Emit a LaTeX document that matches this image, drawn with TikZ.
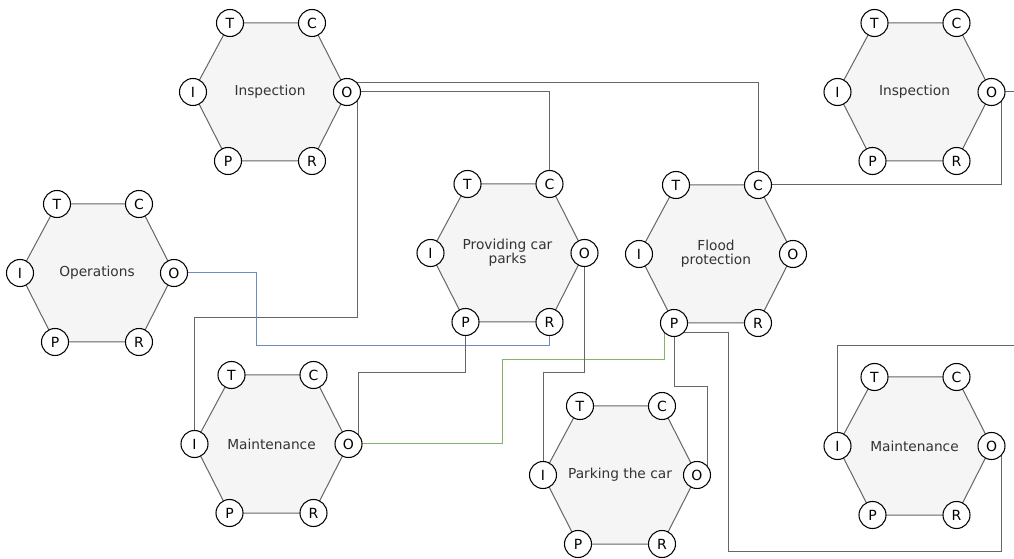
\documentclass[tikz,border=0pt]{standalone}
\usepackage{fontspec}
\setmainfont{DejaVu Sans}
\usetikzlibrary{calc}

\definecolor{edgegray}{HTML}{666666}
\definecolor{hexfillc}{HTML}{F5F5F5}
\definecolor{wireblue}{HTML}{6C8EBF}
\definecolor{wiregreen}{HTML}{82B366}
\definecolor{labelc}{HTML}{333333}

\pgfdeclarelayer{paper}
\pgfdeclarelayer{hexes}
\pgfdeclarelayer{wires}
\pgfsetlayers{paper,hexes,wires,main}

\tikzset{
  port/.style={circle, draw=black, fill=white, line width=0.8pt,
    minimum size=20.25pt, inner sep=0pt, text=black,
    font=\fontsize{10.5}{12}\selectfont},
  hexbody/.style={draw=edgegray, fill=hexfillc, line width=0.75pt},
  wire/.style={draw=edgegray, line width=0.75pt},
  hexlabel/.style={align=center, text=labelc, inner sep=0pt,
    font=\fontsize{10.3}{10.8}\selectfont},
}

% one process hexagon with its six ports T, C, I, O, P, R
\newcommand\hexunit[4]{%
  \node[hexlabel] (#1) at (#2,#3) {#4};
  \node[port] (#1-T) at (#2-40,#3-69) {T};
  \node[port] (#1-C) at (#2+42,#3-69) {C};
  \node[port] (#1-I) at (#2-77,#3) {I};
  \node[port] (#1-O) at (#2+77,#3) {O};
  \node[port] (#1-P) at (#2-42,#3+69) {P};
  \node[port] (#1-R) at (#2+42,#3+69) {R};
  \begin{pgfonlayer}{hexes}
    \draw[hexbody] (#1-T.center) -- (#1-C.center) -- (#1-O.center)
      -- (#1-R.center) -- (#1-P.center) -- (#1-I.center) -- cycle;
  \end{pgfonlayer}}

\begin{document}
\begin{tikzpicture}[x=0.75pt, y=-0.75pt]
  \useasboundingbox (0,0) rectangle (1014,559);
  \begin{pgfonlayer}{paper}
    \fill[white] (0,0) rectangle (1014,559);
  \end{pgfonlayer}

  \hexunit{insA}{270}{92}{Inspection}
  \hexunit{ops}{97}{273}{Operations}
  \hexunit{prov}{507.5}{253}{Providing car\\parks}
  \hexunit{flood}{716}{254}{Flood\\protection}
  \hexunit{insB}{914.5}{92}{Inspection}
  \hexunit{mntA}{271.5}{444}{Maintenance}
  \hexunit{park}{620}{475}{Parking the car}
  \hexunit{mntB}{914.5}{446}{Maintenance}

  % loose ends running off the right margin
  \coordinate (rimA) at (1014,92);
  \coordinate (rimB) at (1014,346);

  \begin{pgfonlayer}{wires}
    \draw[wire] ($(insA-O)+(0,-9.5)$) -| (flood-C.center);
    \draw[wire] (insA-O.center) -| (prov-C.center);
    \draw[wire] ($(insA-O)+(10,0)$) -- ++(0,226) -| (mntA-I.center);
    \draw[wire, draw=wireblue] (ops-O.center) -- ++(82,0) -- ++(0,72.5) -| (prov-R.center);
    \draw[wire] (prov-P.center) -- ++(0,51) -| ($(mntA-O)+(10,0)$);
    \draw[wire, draw=wiregreen] (mntA-O.center) -- ++(154,0) -- ++(0,-84.5) -| ($(flood-P)+(-10,0)$);
    \draw[wire] (prov-O.center) -- ++(0,120) -| (park-I.center);
    \draw[wire] (flood-P.center) -- ++(0,64) -| ($(park-O)+(10,0)$);
    \draw[wire] ($(flood-P)+(0,10)$) -- ++(54,0) -- ++(0,218) -| ($(mntB-O)+(10,0)$);
    \draw[wire] (flood-C.center) -| ($(insB-O)+(10,0)$);
    \draw[wire] (insB-O.center) -- (rimA);
    \draw[wire] (mntB-I.center) |- (rimB);
  \end{pgfonlayer}
\end{tikzpicture}
\end{document}
